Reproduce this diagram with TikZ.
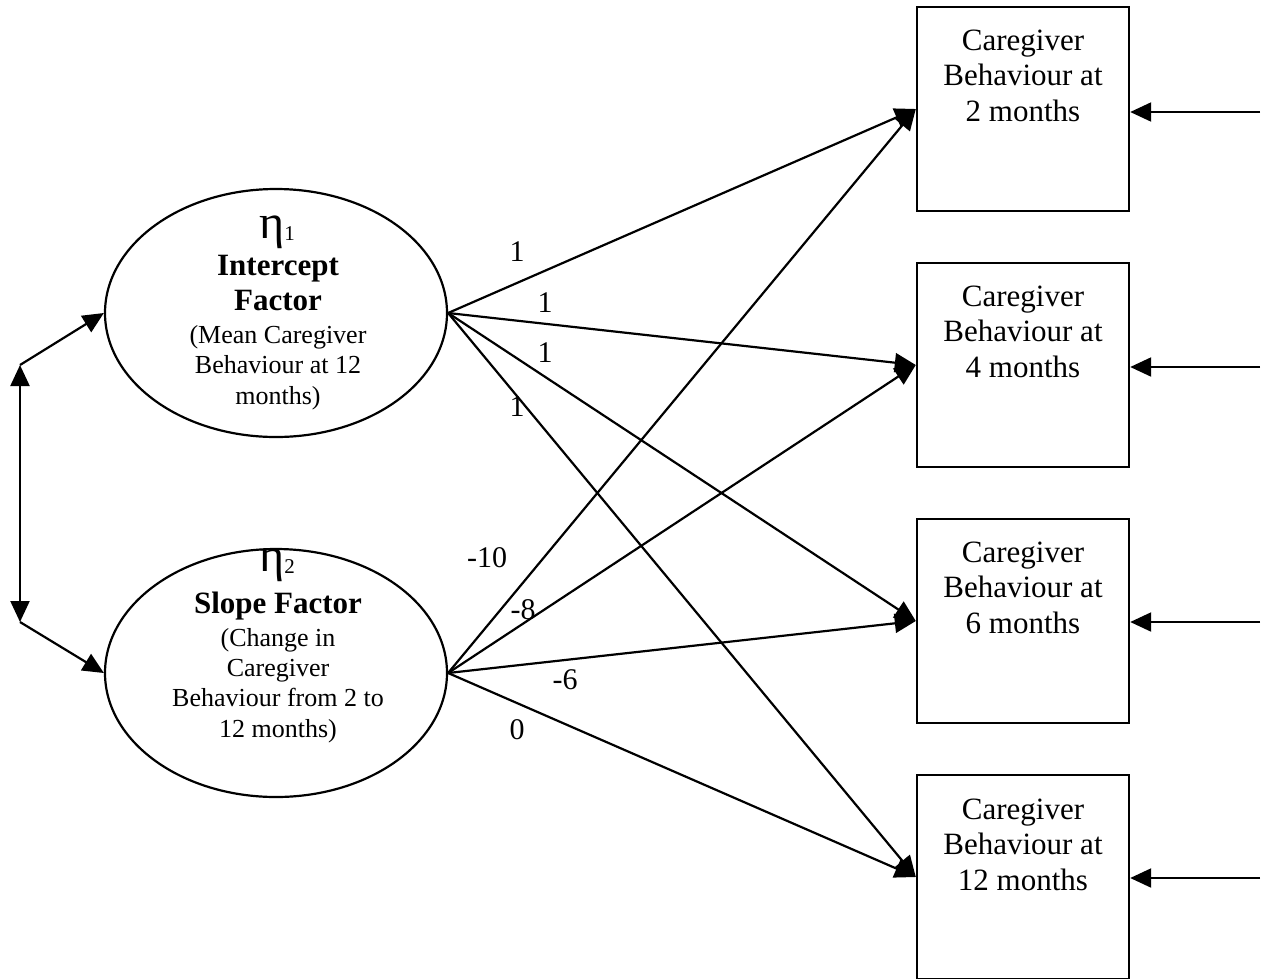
\documentclass[tikz,border=0pt]{standalone}
\usepackage{fontspec}
\setmainfont{Liberation Serif}
\usetikzlibrary{shapes.geometric,arrows.meta}
\begin{document}
\begin{tikzpicture}[x=1pt,y=-1pt,
  conn/.style={line width=2.2pt,-{Triangle[length=21pt,width=19pt]}},
  dbl/.style={line width=2.2pt,{Triangle[length=21pt,width=19pt]}-{Triangle[length=21pt,width=19pt]}},
  latent/.style={ellipse,draw,line width=2.2pt,minimum width=342pt,minimum height=248pt,inner sep=0pt},
  obs/.style={rectangle,draw,line width=2.4pt,minimum width=212pt,minimum height=204pt,inner sep=0pt},
  boxtext/.style={align=center,font=\fontsize{31}{35.5}\selectfont,inner sep=0pt,anchor=base},
  etatext/.style={inner sep=0pt,anchor=base,font=\fontsize{48}{48}\selectfont},
  boldtext/.style={align=center,font=\fontsize{31}{35}\selectfont\bfseries,inner sep=0pt,anchor=base},
  smalltext/.style={align=center,font=\fontsize{26}{30.3}\selectfont,inner sep=0pt,anchor=base},
  wlabel/.style={inner sep=0pt,font=\fontsize{30}{30}\selectfont}
]
\useasboundingbox (0,0) rectangle (1269,978);

% latent variables
\node[latent] (e1) at (276,313) {};
\node[latent] (e2) at (276,673) {};

\node[etatext] (e1eta) at (277,238) {η\raisebox{-2pt}{\fontsize{21}{21}\selectfont 1}};
\node[boldtext] (e1b) at (278,310) {Intercept\\Factor};
\node[smalltext] (e1s) at (278,404) {(Mean Caregiver\\Behaviour at 12\\months)};

\node[etatext] (e2eta) at (277,571) {η\raisebox{-2pt}{\fontsize{21}{21}\selectfont 2}};
\node[boldtext] (e2b) at (278,613) {Slope Factor};
\node[smalltext] (e2s) at (278,737) {(Change in\\Caregiver\\Behaviour from 2 to\\12 months)};

% observed variables
\node[obs] (b1) at (1023,109) {};
\node[obs] (b2) at (1023,365) {};
\node[obs] (b3) at (1023,621) {};
\node[obs] (b4) at (1023,877) {};

\node[boxtext] (b1t) at (1023,121) {Caregiver\\Behaviour at\\2 months};
\node[boxtext] (b2t) at (1023,377) {Caregiver\\Behaviour at\\4 months};
\node[boxtext] (b3t) at (1023,633) {Caregiver\\Behaviour at\\6 months};
\node[boxtext] (b4t) at (1023,890) {Caregiver\\Behaviour at\\12 months};

% error arrows
\coordinate (r1) at (1260,112);
\coordinate (r2) at (1260,367);
\coordinate (r3) at (1260,622);
\coordinate (r4) at (1260,878);
\draw[conn] (r1) -- (b1.east |- r1);
\draw[conn] (r2) -- (b2.east |- r2);
\draw[conn] (r3) -- (b3.east |- r3);
\draw[conn] (r4) -- (b4.east |- r4);

% covariance
\coordinate (l1) at (20,365);
\coordinate (l2) at (20,622);
\draw[dbl] (l1) -- (l2);
\draw[conn] (l1) -- (e1.west);
\draw[conn] (l2) -- (e2.west);

% loadings
\draw[conn] (e1.east) -- (b1.west);
\draw[conn] (e1.east) -- (b2.west);
\draw[conn] (e1.east) -- (b3.west);
\draw[conn] (e1.east) -- (b4.west);
\draw[conn] (e2.east) -- (b1.west);
\draw[conn] (e2.east) -- (b2.west);
\draw[conn] (e2.east) -- (b3.west);
\draw[conn] (e2.east) -- (b4.west);

% loading labels
\node[wlabel] (w1) at (517,252) {1};
\node[wlabel] (w2) at (545,303) {1};
\node[wlabel] (w3) at (545,353) {1};
\node[wlabel] (w4) at (517,407) {1};
\node[wlabel] (w5) at (487,558) {-10};
\node[wlabel] (w6) at (523,610) {-8};
\node[wlabel] (w7) at (565,680) {-6};
\node[wlabel] (w8) at (517,730) {0};
\end{tikzpicture}
\end{document}
